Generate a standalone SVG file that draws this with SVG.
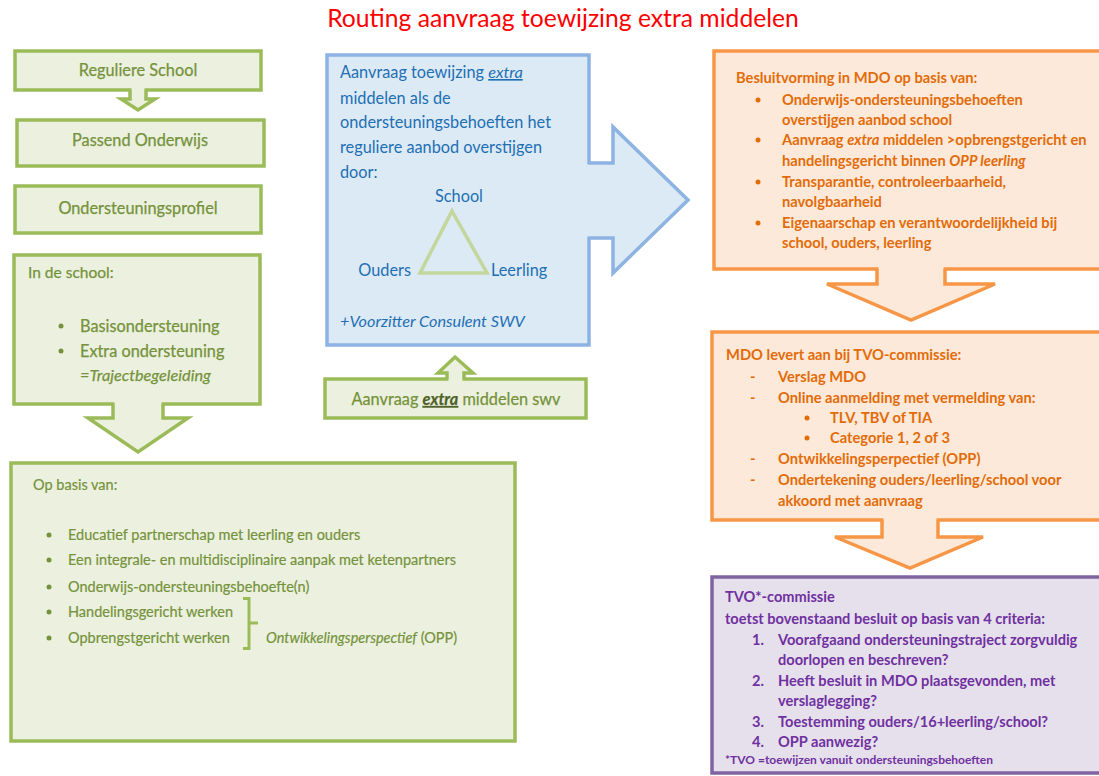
<svg xmlns="http://www.w3.org/2000/svg" width="1099" height="776" viewBox="0 0 1099 776">
<style>
text{font-family:Lato,"Liberation Sans",Arial,sans-serif}
.g{fill:#ebf1de;stroke:#9bbb59;stroke-width:3.5}
.gc{fill:#ebf1de}
.b{fill:#dbeaf4;stroke:#8db3e2;stroke-width:3.5}
.bc{fill:#dbeaf4}
.o{fill:#fde9d9;stroke:#f79646;stroke-width:3.5}
.oc{fill:#fde9d9}
.p{fill:#e5e0ec;stroke:#8064a2;stroke-width:3.5}
.tg{fill:#76923c;font-size:16.3px;stroke:#76923c;stroke-width:0.25}
.tg2{fill:#76923c;font-size:14.5px;stroke:#76923c;stroke-width:0.2}
.tb{fill:#1f6fb5;font-size:16.3px}
.to{fill:#e36c0a;font-size:14.7px;font-weight:bold}
.tp{fill:#7030a0;font-size:14.6px;font-weight:bold}
.dg{fill:#76923c}
.do{fill:#e36c0a}
.it{font-style:italic}
.mid{text-anchor:middle}
</style>

<text x="563" y="27" class="mid" style="fill:#ff0000;font-size:24.7px">Routing aanvraag toewijzing extra middelen</text>

<g id="reguliere-school">
<rect class="g" x="15" y="51" width="246" height="39"/>
<text x="138" y="76" class="tg mid">Reguliere School</text>
</g>
<g id="passend-onderwijs">
<rect class="g" x="17" y="120" width="247" height="46"/>
<text x="140" y="146" class="tg mid">Passend Onderwijs</text>
</g>
<g id="ondersteuningsprofiel">
<rect class="g" x="15" y="186" width="246" height="47"/>
<text x="138" y="214" class="tg mid">Ondersteuningsprofiel</text>
</g>
<g id="in-de-school">
<rect class="g" x="14" y="255" width="246" height="149"/>
<text x="28" y="278" class="tg" style="font-size:15.5px">In de school:</text>
<circle cx="61" cy="326" r="2.5" class="dg"/>
<text x="80" y="332" class="tg">Basisondersteuning</text>
<circle cx="61" cy="351" r="2.5" class="dg"/>
<text x="80" y="357" class="tg">Extra ondersteuning</text>
<text x="80" y="381" class="tg it">=Trajectbegeleiding</text>
</g>
<g id="op-basis-van">
<rect class="g" x="11" y="463" width="504" height="278"/>
<text x="33" y="490" class="tg2">Op basis van:</text>
<circle cx="49" cy="535" r="2.5" class="dg"/>
<text x="68" y="540" class="tg2">Educatief partnerschap met leerling en ouders</text>
<circle cx="49" cy="560" r="2.5" class="dg"/>
<text x="68" y="565" class="tg2">Een integrale- en multidisciplinaire aanpak met ketenpartners</text>
<circle cx="49" cy="587" r="2.5" class="dg"/>
<text x="68" y="592" class="tg2">Onderwijs-ondersteuningsbehoefte(n)</text>
<circle cx="49" cy="612" r="2.5" class="dg"/>
<text x="68" y="617" class="tg2">Handelingsgericht werken</text>
<circle cx="49" cy="638" r="2.5" class="dg"/>
<text x="68" y="643" class="tg2">Opbrengstgericht  werken</text>
<path d="M243,598.5 H249 V623 H258 M249,623 V648.5 H243" fill="none" stroke="#9bbb59" stroke-width="3"/>
<text x="266" y="643" class="tg2"><tspan class="it">Ontwikkelingsperspectief</tspan> (OPP)</text>
</g>

<g id="aanvraag-toewijzing">
<path class="b" d="M327,55 H589 V345 H327 Z"/>
<text x="340" y="78" class="tb">Aanvraag toewijzing <tspan class="it" text-decoration="underline">extra</tspan></text>
<text x="340" y="104" class="tb">middelen als de</text>
<text x="340" y="128" class="tb">ondersteuningsbehoeften het</text>
<text x="340" y="153" class="tb">reguliere aanbod overstijgen</text>
<text x="340" y="178" class="tb">door:</text>
<text x="459" y="202" class="tb mid">School</text>
<path d="M452,211 L487,273 H420 Z" fill="none" stroke="#c3d69b" stroke-width="3.5"/>
<text x="411" y="276" class="tb" text-anchor="end">Ouders</text>
<text x="491" y="276" class="tb">Leerling</text>
<text x="340" y="327" class="tb it">+Voorzitter Consulent SWV</text>
</g>

<g id="aanvraag-swv">
<rect class="g" x="325" y="379" width="261" height="39"/>
<text x="456" y="405" class="tg mid">Aanvraag <tspan class="it" style="font-weight:bold;fill:#4f6228;stroke:#4f6228" text-decoration="underline">extra</tspan> middelen swv</text>
</g>

<g id="besluitvorming">
<rect class="o" x="714" y="51" width="400" height="218"/>
<text x="736" y="83" class="to">Besluitvorming in MDO op basis van:</text>
<circle cx="758" cy="100" r="2.5" class="do"/>
<text x="782" y="105" class="to">Onderwijs-ondersteuningsbehoeften</text>
<text x="782" y="125" class="to">overstijgen aanbod school</text>
<circle cx="758" cy="140" r="2.5" class="do"/>
<text x="782" y="145" class="to">Aanvraag <tspan class="it">extra</tspan> middelen &gt;opbrengstgericht en</text>
<text x="782" y="166" class="to">handelingsgericht binnen <tspan class="it">OPP leerling</tspan></text>
<circle cx="758" cy="182" r="2.5" class="do"/>
<text x="782" y="187" class="to">Transparantie, controleerbaarheid,</text>
<text x="782" y="207" class="to">navolgbaarheid</text>
<circle cx="758" cy="223" r="2.5" class="do"/>
<text x="782" y="228" class="to">Eigenaarschap en verantwoordelijkheid bij</text>
<text x="782" y="248" class="to">school, ouders, leerling</text>
</g>

<g id="mdo-levert">
<rect class="o" x="712" y="332" width="400" height="188"/>
<text x="726" y="360" class="to">MDO levert aan bij TVO-commissie:</text>
<text x="750" y="382" class="to">-</text>
<text x="778" y="382" class="to">Verslag MDO</text>
<text x="750" y="403" class="to">-</text>
<text x="778" y="403" class="to">Online aanmelding met vermelding van:</text>
<circle cx="807" cy="418" r="2.5" class="do"/>
<text x="830" y="423" class="to">TLV, TBV of TIA</text>
<circle cx="807" cy="438" r="2.5" class="do"/>
<text x="830" y="443" class="to">Categorie 1, 2 of 3</text>
<text x="750" y="464" class="to">-</text>
<text x="778" y="464" class="to">Ontwikkelingsperpectief (OPP)</text>
<text x="750" y="485" class="to">-</text>
<text x="778" y="485" class="to">Ondertekening ouders/leerling/school voor</text>
<text x="778" y="506" class="to">akkoord met aanvraag</text>
</g>

<g id="tvo-commissie">
<rect class="p" x="712" y="577" width="400" height="196"/>
<text x="725" y="602" class="tp">TVO*-commissie</text>
<text x="725" y="624" class="tp">toetst bovenstaand besluit op basis van 4 criteria:</text>
<text x="752" y="645" class="tp">1.</text>
<text x="778" y="645" class="tp">Voorafgaand ondersteuningstraject zorgvuldig</text>
<text x="778" y="665" class="tp">doorlopen en beschreven?</text>
<text x="752" y="686" class="tp">2.</text>
<text x="778" y="686" class="tp">Heeft besluit in MDO plaatsgevonden, met</text>
<text x="778" y="706" class="tp">verslaglegging?</text>
<text x="752" y="727" class="tp">3.</text>
<text x="778" y="727" class="tp">Toestemming ouders/16+leerling/school?</text>
<text x="752" y="747" class="tp">4.</text>
<text x="778" y="747" class="tp">OPP aanwezig?</text>
<text x="725" y="764" class="tp" style="font-size:12px">*TVO =toewijzen vanuit ondersteuningsbehoeften</text>
</g>

<g id="connectors">
<g>
<rect class="gc" x="131.5" y="87" width="13" height="5"/>
<path class="g" d="M130,90 V99 H121 L138,110 L155,99 H146 V90"/>
</g>
<g>
<rect class="gc" x="114.5" y="401" width="47" height="5"/>
<path class="g" d="M113,404 V418 H88 L138,452 L188,418 H163 V404"/>
</g>
<g>
<rect class="bc" x="586.5" y="164.5" width="5" height="72"/>
<path class="b" d="M589,163 H613 V127 L688,200 L613,273 V238 H589"/>
</g>
<g>
<rect class="gc" x="448.5" y="377" width="14" height="5"/>
<path class="g" d="M447,379 V373 H438 L455,357 L473,373 H464 V379"/>
</g>
<g>
<rect class="oc" x="878.5" y="266.5" width="65" height="5"/>
<path class="o" d="M877,269 V284 H827 L911,320 L995,284 H945 V269"/>
</g>
<g>
<rect class="oc" x="883.5" y="517.5" width="53" height="5"/>
<path class="o" d="M882,520 V537 H835 L910,568 L983,537 H938 V520"/>
</g>
</g>
</svg>
